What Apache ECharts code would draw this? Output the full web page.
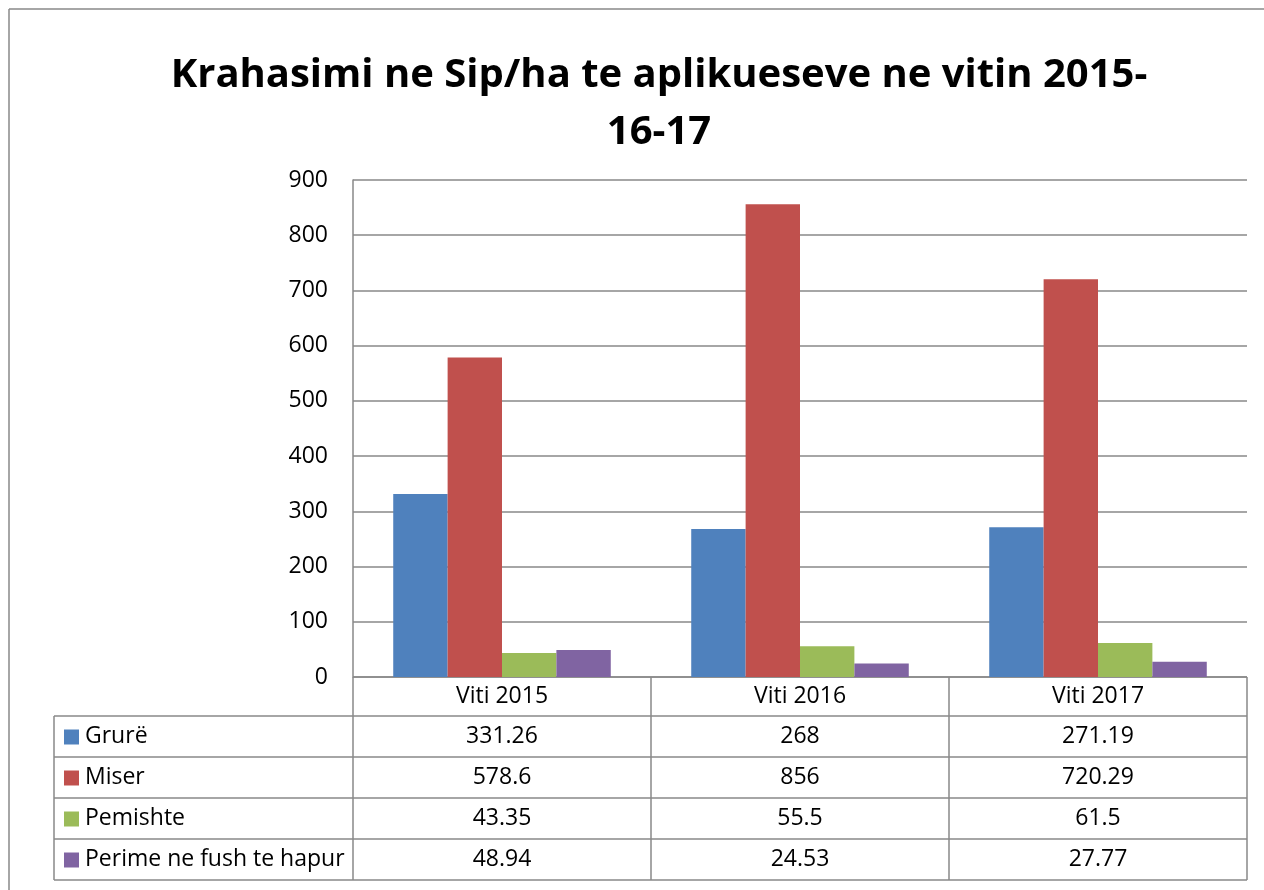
<!DOCTYPE html>
<html>
<head>
<meta charset="utf-8">
<script src="https://cdn.jsdelivr.net/npm/echarts@6/dist/echarts.min.js"></script>
<style>
  html, body { margin: 0; padding: 0; background: #fff; }
  #chart { width: 1264px; height: 890px; }
</style>
</head>
<body>
<div id="chart"></div>
<script>
// data
const years = ['Viti 2015', 'Viti 2016', 'Viti 2017'];
const seriesNames = ['Grurë', 'Miser', 'Pemishte', 'Perime ne fush te hapur'];
const grure = [331.26, 268, 271.19];
const miser = [578.6, 856, 720.29];
const pemishte = [43.35, 55.5, 61.5];
const perime = [48.94, 24.53, 27.77];
const yTicks = [0, 100, 200, 300, 400, 500, 600, 700, 800, 900];

const colors = ['#4F81BD', '#C0504D', '#9BBB59', '#8064A2'];
const allValues = [grure, miser, pemishte, perime];

// layout of the plot + data table
const plotLeft = 353, plotTop = 180, plotRight = 1247, plotBottom = 677;
const tableLeft = 54, rowH = 41, headerBottom = 716;
const lineColor = '#898989';
const font = '"Open Sans", "Noto Sans", sans-serif';
const textSize = 23;

const chart = echarts.init(document.getElementById('chart'));

function buildTable() {
  const g = [];
  const colW = (plotRight - plotLeft) / years.length;
  const tableBottom = headerBottom + rowH * seriesNames.length;
  const ln = (x1, y1, x2, y2) => ({
    type: 'line', shape: { x1, y1, x2, y2 },
    style: { stroke: lineColor, lineWidth: 1.5 }, silent: true
  });
  const txt = textSize + 'px ' + font;
  // outer chart border
  g.push(ln(9, 9, 1264, 9));
  g.push(ln(9, 9, 9, 890));
  // horizontal lines
  g.push(ln(plotLeft, plotBottom, plotRight, plotBottom));
  for (let r = 0; r <= seriesNames.length; r++) {
    const y = headerBottom + r * rowH;
    g.push(ln(tableLeft, y, plotRight, y));
  }
  // vertical lines
  g.push(ln(tableLeft, headerBottom, tableLeft, tableBottom));
  g.push(ln(plotLeft, plotBottom, plotLeft, tableBottom));
  for (let c = 1; c <= years.length; c++) {
    const x = plotLeft + c * colW;
    g.push(ln(x, plotBottom, x, tableBottom));
  }
  // header labels
  years.forEach((yr, c) => {
    g.push({
      type: 'text', silent: true,
      x: plotLeft + (c + 0.5) * colW, y: (plotBottom + headerBottom) / 2,
      style: { text: yr, font: txt, fill: '#000', align: 'center', verticalAlign: 'middle' }
    });
  });
  // rows
  seriesNames.forEach((name, r) => {
    const cy = headerBottom + (r + 0.5) * rowH;
    g.push({
      type: 'rect', silent: true,
      shape: { x: tableLeft + 10, y: cy - 7, width: 15, height: 15 },
      style: { fill: colors[r] }
    });
    g.push({
      type: 'text', silent: true, x: tableLeft + 31, y: cy,
      style: { text: name, font: txt, fill: '#000', align: 'left', verticalAlign: 'middle' }
    });
    allValues[r].forEach((v, c) => {
      g.push({
        type: 'text', silent: true,
        x: plotLeft + (c + 0.5) * colW, y: cy,
        style: { text: String(v), font: txt, fill: '#000', align: 'center', verticalAlign: 'middle' }
      });
    });
  });
  return g;
}

const option = {
  animation: false,
  backgroundColor: '#fff',
  color: colors,
  title: {
    text: 'Krahasimi ne Sip/ha te aplikueseve ne vitin 2015-\n16-17',
    left: 654, top: 42, textAlign: 'center',
    textStyle: { fontFamily: font, fontSize: 40, fontWeight: 'bold', color: '#000', lineHeight: 57 }
  },
  grid: {
    left: plotLeft, top: plotTop,
    width: plotRight - plotLeft, height: plotBottom - plotTop,
    containLabel: false
  },
  xAxis: {
    type: 'category',
    data: years,
    axisLine: { show: false },
    axisTick: { show: false },
    axisLabel: { show: false }
  },
  yAxis: {
    type: 'value',
    min: yTicks[0], max: yTicks[yTicks.length - 1], interval: 100,
    axisLine: { show: true, lineStyle: { color: lineColor, width: 1.5 } },
    axisTick: { show: false },
    axisLabel: { fontFamily: font, fontSize: textSize, color: '#000', margin: 25 },
    splitLine: { lineStyle: { color: lineColor, width: 1.5 } }
  },
  series: seriesNames.map((name, i) => ({
    name,
    type: 'bar',
    data: allValues[i],
    barGap: '0%',
    barCategoryGap: '27%',
    itemStyle: { color: colors[i] }
  })),
  graphic: buildTable()
};

chart.setOption(option);
</script>
</body>
</html>
